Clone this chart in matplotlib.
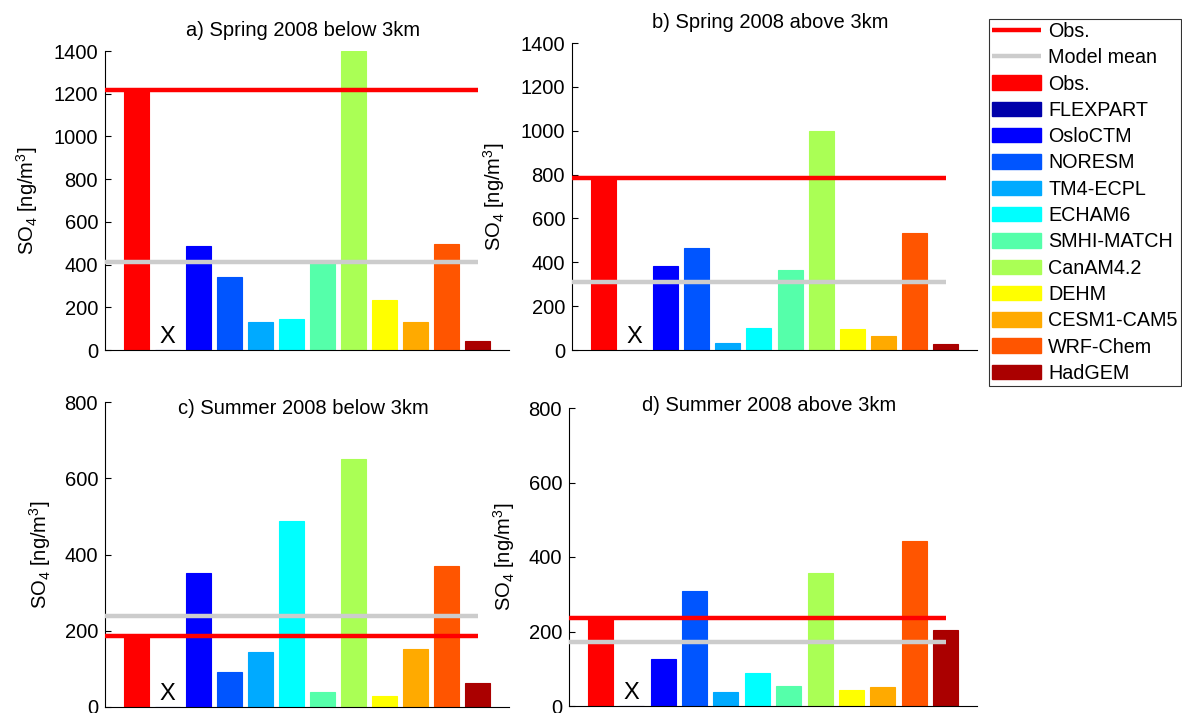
import numpy as np
import matplotlib
matplotlib.use("Agg")
import matplotlib.pyplot as plt
from matplotlib.lines import Line2D
from matplotlib.patches import Patch

plt.rcParams['font.family'] = ['Liberation Sans', 'DejaVu Sans']
plt.rcParams['mathtext.default'] = 'regular'

models = ['Obs.', 'FLEXPART', 'OsloCTM', 'NORESM', 'TM4-ECPL', 'ECHAM6',
          'SMHI-MATCH', 'CanAM4.2', 'DEHM', 'CESM1-CAM5', 'WRF-Chem', 'HadGEM']

spring_below = [1218, 0, 485, 340, 133, 145, 410, 1400, 234, 133, 495, 44]
spring_above = [784, 0, 385, 464, 30, 99, 367, 1000, 94, 65, 533, 26]
summer_below = [186, 0, 351, 92, 144, 488, 39, 650, 30, 153, 371, 63]
summer_above = [237, 0, 126, 309, 38, 89, 55, 358, 44, 51, 443, 205]
model_mean = [414, 310, 240, 171]

titles = ['a) Spring 2008 below 3km', 'b) Spring 2008 above 3km',
          'c) Summer 2008 below 3km', 'd) Summer 2008 above 3km']

# jet(12)-like colours, Obs. in pure red
colors = [(1, 0, 0), (0, 0, 0.667), (0, 0, 1), (0, 0.333, 1), (0, 0.667, 1),
          (0, 1, 1), (0.333, 1, 0.667), (0.667, 1, 0.333), (1, 1, 0),
          (1, 0.667, 0), (1, 0.333, 0), (0.667, 0, 0)]

W, H = 1182, 713
def box(l, r, t, b):
    return [l / W, (H - b) / H, (r - l) / W, (b - t) / H]

fig = plt.figure(figsize=(11.82, 7.13), dpi=100)
axes = [fig.add_axes(box(105, 509, 51, 350)),
        fig.add_axes(box(572, 977, 43, 350)),
        fig.add_axes(box(105, 509, 402, 707)),
        fig.add_axes(box(569, 977, 408, 706))]

data = [spring_below, spring_above, summer_below, summer_above]
ymax = [1400, 1400, 800, 800]
title_y = [1.07, 1.068, 0.98, 1.01]
label_x = [-0.16, -0.16, -0.128, -0.128]

x = np.arange(1, 13)
for i, ax in enumerate(axes):
    vals = data[i]
    ax.bar(x, vals, width=0.8, color=colors, edgecolor=colors, linewidth=0.8, zorder=2)
    ax.plot([0, 12], [vals[0], vals[0]], color='red', lw=3.2, zorder=3,
            solid_capstyle='butt')
    ax.plot([0, 12], [model_mean[i], model_mean[i]], color=(0.8, 0.8, 0.8), lw=3.2,
            zorder=3, solid_capstyle='butt')
    ax.annotate('X', xy=(2, 0), xytext=(0, 7), textcoords='offset pixels',
                ha='center', va='baseline', fontsize=17)
    ax.set_xlim(0, 13)
    ax.set_ylim(0, ymax[i])
    ax.set_yticks(np.arange(0, ymax[i] + 1, 200))
    ax.set_xticks([])
    ax.spines['top'].set_visible(False)
    ax.spines['right'].set_visible(False)
    ax.tick_params(axis='y', direction='in', length=4, pad=5, labelsize=14.5)
    ax.set_ylabel('SO$_4$ [ng/m$^3$]', fontsize=14.5)
    ax.yaxis.set_label_coords(label_x[i], 0.5)
    ax.text(0.49, title_y[i], titles[i], transform=ax.transAxes, ha='center',
            va='center', fontsize=14.5)

handles = [Line2D([0], [0], color='red', lw=3.2, solid_capstyle='butt'),
           Line2D([0], [0], color=(0.8, 0.8, 0.8), lw=3.2, solid_capstyle='butt')]
labels = ['Obs.', 'Model mean']
for m, c in zip(models, colors):
    handles.append(Patch(facecolor=c, edgecolor=c))
    labels.append(m)

leg = fig.legend(handles, labels, loc='upper left', bbox_to_anchor=(989 / W, 1 - 19 / H),
                 fontsize=14.2, frameon=True, fancybox=False, handlelength=2.5,
                 handleheight=0.75, handletextpad=0.35, labelspacing=0.37,
                 borderpad=0.15, borderaxespad=0)
leg.get_frame().set_edgecolor('black')
leg.get_frame().set_linewidth(0.8)

fig.savefig('out.png', dpi=100)
